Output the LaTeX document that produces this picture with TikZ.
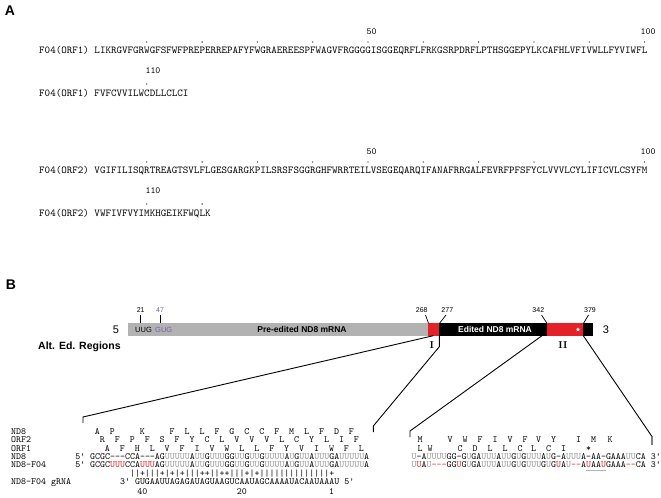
\documentclass[tikz,border=0pt]{standalone}
\usepackage{fontspec}
\setsansfont{Liberation Sans}
\usetikzlibrary{shapes.geometric}

\definecolor{edred}{RGB}{228,32,40}
\definecolor{ugrey}{gray}{0.58}
\definecolor{bargrey}{gray}{0.70}
\definecolor{startpurple}{RGB}{120,95,170}

\newcommand{\ug}[1]{\textcolor{ugrey}{#1}}
\newcommand{\ru}[1]{\textcolor{edred}{#1}}

\begin{document}
\begin{tikzpicture}[x=1bp, y=-1bp,
    seqa/.style={font=\ttfamily\fontsize{10.53bp}{12bp}\selectfont, inner sep=0pt, anchor=base west},
    seqb/.style={font=\ttfamily\fontsize{9.49bp}{11bp}\selectfont, inner sep=0pt, anchor=base west},
    res/.style={font=\ttfamily\fontsize{9.49bp}{11bp}\selectfont, inner sep=0pt, anchor=base},
    posnum/.style={font=\sffamily\fontsize{7bp}{8bp}\selectfont, inner sep=0pt},
    codon/.style={font=\sffamily\fontsize{7.5bp}{8bp}\selectfont, inner sep=0pt, anchor=west},
    panel/.style={font=\sffamily\bfseries\fontsize{14bp}{15bp}\selectfont, inner sep=0pt},
    barlabel/.style={font=\sffamily\bfseries\fontsize{8.5bp}{9bp}\selectfont, inner sep=0pt},
    endlabel/.style={font=\sffamily\fontsize{11bp}{12bp}\selectfont, inner sep=0pt},
    region/.style={font=\rmfamily\bfseries\fontsize{10bp}{11bp}\selectfont, inner sep=0pt},
    link/.style={line width=0.9bp}]

    \useasboundingbox (0,0) rectangle (661,498);

    % Panel A
    \node[panel] (panA) at (10,11) {A};

    % ORF1
    \node[res] (o1n50) at (371.7,35) {50};
    \node[res] (o1n100) at (648,35) {100};
    \foreach \k in {10,20,...,100}
        \fill ({39+5.53*(9.5+\k)},42) circle (0.65);
    \node[seqa] (orf1a) at (39,53.2) {F04(ORF1) LIKRGVFGRWGFSFWFPREPERREPAFYFWGRAEREESPFWAGVFRGGGGISGGEQRFLFRKGSRPDRFLPTHSGGEPYLKCAFHLVFIVWLLFYVIWFL};
    \node[res] (o1n110) at (153,74) {110};
    \fill ({39+5.53*19.5},84) circle (0.65);
    \node[seqa] (orf1b) at (39,96.2) {F04(ORF1) FVFCVVILWCDLLCLCI};

    % ORF2
    \node[res] (o2n50) at (371.7,155) {50};
    \node[res] (o2n100) at (648,155) {100};
    \foreach \k in {10,20,...,100}
        \fill ({39+5.53*(9.5+\k)},162) circle (0.65);
    \node[seqa] (orf2a) at (39,173.2) {F04(ORF2) VGIFILISQRTREAGTSVLFLGESGARGKPILSRSFSGGRGHFWRRTEILVSEGEQARQIFANAFRRGALFEVRFPFSFYCLVVVLCYLIFICVLCSYFM};
    \node[res] (o2n110) at (153,194) {110};
    \foreach \k in {10,20}
        \fill ({39+5.53*(9.5+\k)},204) circle (0.65);
    \node[seqa] (orf2b) at (39,216.2) {F04(ORF2) VWFIVFVYIMKHGEIKFWQLK};

    % Panel B
    \node[panel] (panB) at (11,285) {B};

    % mRNA bar
    \fill[bargrey] (127.7,323.3) rectangle (428,335.7);
    \fill[edred] (428,323.3) rectangle (439,335.7);
    \fill[black] (439,323.3) rectangle (547,335.7);
    \fill[edred] (547,323.3) rectangle (583,335.7);
    \fill[black] (583,323.3) rectangle (593,335.7);
    \node[endlabel] (end5) at (116,330) {5};
    \node[endlabel] (end3) at (606,330) {3};
    \node[codon] (uug) at (135,330) {UUG};
    \node[codon, text=startpurple] (gug) at (155,330) {GUG};
    \node[barlabel] (pre) at (302,329.5) {Pre-edited ND8 mRNA};
    \node[barlabel, text=white] (edit) at (495,329.5) {Edited ND8 mRNA};
    \node[star, star points=5, star point ratio=2.3, fill=white, inner sep=0pt, minimum size=4.5bp] (stop) at (578,329.5) {};
    \node[font=\sffamily\bfseries\fontsize{10.5bp}{11bp}\selectfont, inner sep=0pt, anchor=west] (alted) at (38,347) {Alt. Ed. Regions};

    % Positions
    \node[posnum] (p21) at (140.7,310) {21};
    \node[posnum, text=startpurple] (p47) at (160,310) {47};
    \node[posnum] (p268) at (421.7,310) {268};
    \node[posnum] (p277) at (447.3,310) {277};
    \node[posnum] (p342) at (538.3,310) {342};
    \node[posnum] (p379) at (590,310) {379};
    \draw[line width=0.7bp] (140.7,315) -- (140.7,323.3);
    \draw[line width=0.7bp] (160,315) -- (160,323.3);
    \draw[line width=0.7bp] (425.5,315) -- (428.5,323.3);
    \draw[line width=0.7bp] (446,315) -- (439.5,323.3);
    \draw[line width=0.7bp] (541.5,315) -- (547,323.3);
    \draw[line width=0.7bp] (588.5,315) -- (583.5,323.3);
    \node[region] (regI) at (431.7,345) {I};
    \node[region] (regII) at (563,345) {II};

    % Connectors
    \coordinate (regIa) at (433.3,335.7);
    \coordinate (regIb) at (439.3,335.7);
    \coordinate (regIIa) at (542,335.7);
    \coordinate (regIIb) at (583.3,335.7);
    \coordinate (blkLa) at (83,417);
    \coordinate (blkLb) at (373.3,426);
    \coordinate (blkRa) at (410,431);
    \coordinate (blkRb) at (652.3,437);
    \draw[link] (regIa) -- (blkLa) -- ++(0,6);
    \draw[link] (regIb) -- ++(0,11) -- (blkLb) -- ++(0,6);
    \draw[link] (regIIa) -- (blkRa) -- ++(0,6);
    \draw[link] (regIIb) -- (blkRb);
    \draw[line width=2.2bp, gray] (blkRb) -- ++(0,8);

    % Region I alignment
    \node[seqb] (lnd8a) at (11,434) {ND8};
    \node[seqb] (lorf2) at (11,442.4) {ORF2};
    \node[seqb] (lorf1) at (11,451) {ORF1};
    \node[seqb] (lnd8) at (11,459) {ND8};
    \node[seqb] (lf04) at (11,467) {ND8-F04};
    \node[seqb] (lgrna) at (11,484.5) {ND8-F04 gRNA};

    \foreach \c/\r in {1/A,4/P,10/K,16/F,19/L,22/L,25/F,28/G,31/C,34/C,37/F,40/M,43/L,46/F,49/D,52/F}
        \node[res] (nda\c) at ({92.5+4.98*\c},434) {\r};
    \foreach \c/\r in {2/R,5/F,8/P,11/F,14/S,17/F,20/Y,23/C,26/L,29/V,32/V,35/V,38/L,41/C,44/Y,47/L,50/I,53/F}
        \node[res] (oba\c) at ({92.5+4.98*\c},442.4) {\r};
    \foreach \c/\r in {3/A,6/F,9/H,12/L,15/V,18/F,21/I,24/V,27/W,30/L,33/L,36/F,39/Y,42/V,45/I,48/W,51/F,54/L}
        \node[res] (oaa\c) at ({92.5+4.98*\c},451) {\r};

    \node[seqb] (nd8I) at (75.06,459) {5' GCGC-{}-{}-CCA-{}-{}-AG\ug{UUUUU}A\ug{UU}G\ug{UUU}GG\ug{UU}G\ug{UU}G\ug{UUUU}A\ug{U}G\ug{UU}A\ug{UUU}GA\ug{UUUUU}A};
    \node[seqb] (f04I) at (75.06,467) {5' GCGC\ru{UUU}CCA\ru{UUU}AG\ug{UUUUU}A\ug{UU}G\ug{UUU}GG\ug{UU}G\ug{UU}G\ug{UUUU}A\ug{U}G\ug{UU}A\ug{UUU}GA\ug{UUUUU}A};
    \node[seqb] (pairI) at (129.84,476) {||+|||+|+|+|||++||++|||+|+||||||||||||||+};
    \node[seqb] (grnaI) at (119.88,484.5) {3' GUGAAUUAGAGAUAGUAAGUCAAUAGCAAAAUACAAUAAAU 5'};
    \node[res] (g40) at (142.3,494.5) {40};
    \node[res] (g20) at (241.9,494.5) {20};
    \node[res] (g1) at (331.5,494.5) {1};

    % Region II alignment
    \foreach \x/\r in {420/M,450/V,465/W,480/F,495/I,510/V,525/F,538.5/V,553.5/Y,578.5/I,593.5/M,610/K}
        \node[res] (rba\r\x) at (\x,442.4) {\r};
    \foreach \x/\r in {420/L,430/W,460/C,475/D,490/L,505/L,520/C,533.5/L,548.5/C,563.5/I,588.5/*}
        \node[res] (raa\x) at (\x,451) {\r};
    \node[seqb] (nd8II) at (411.5,459) {\ug{U}-A\ug{UUUU}GG-G\ug{U}GA\ug{UUU}A\ug{UU}G\ug{U}G\ug{UUU}A\ug{U}G-A\ug{UUU}A-AA-GAAA\ug{UU}CA 3'};
    \node[seqb] (f04II) at (411.5,467) {\ug{U}\ru{U}A\ug{U}\ru{-{}-{}-}GG\ru{U}G\ug{U}GA\ug{UUU}A\ug{UU}G\ug{U}G\ug{UUU}G\ug{U}G\ru{U}A\ug{U}\ru{-{}-}A\ru{U}AA\ru{U}GAAA\ru{-{}-}CA 3'};
    \draw[line width=0.8bp, gray!60] (585.8,470) -- (605.7,470);
\end{tikzpicture}
\end{document}
